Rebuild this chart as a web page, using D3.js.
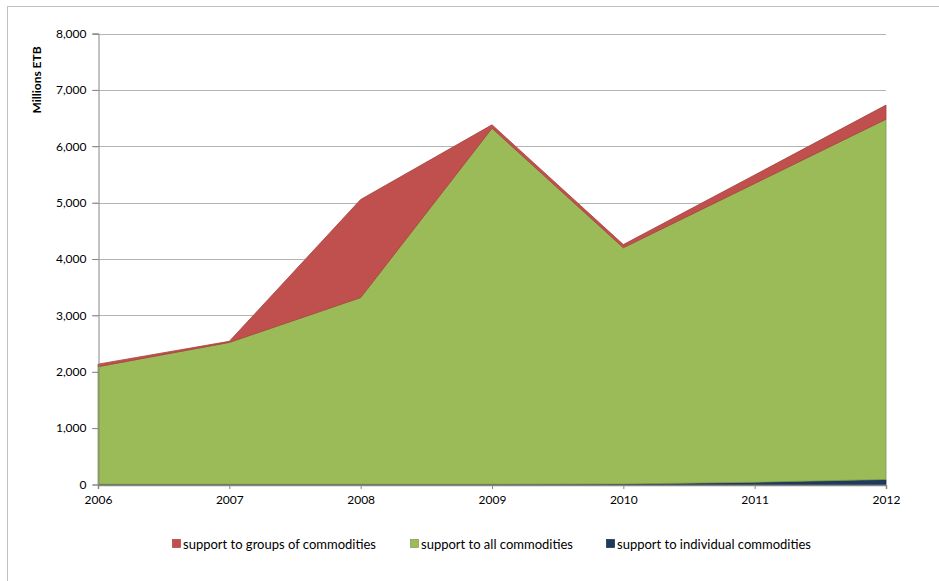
<!DOCTYPE html>
<html>
<head>
<meta charset="utf-8">
<script src="https://cdn.jsdelivr.net/npm/d3@7"></script>
<style>
  html, body { margin: 0; padding: 0; background: #fff; }
  svg { display: block; font-family: Lato, "Open Sans", sans-serif; }
</style>
</head>
<body>
<svg id="chart" width="939" height="581"></svg>
<script>
const years = [2006, 2007, 2008, 2009, 2010, 2011, 2012];
const individualCommodities = [5, 5, 5, 5, 10, 40, 90];
const allCommodities = [2085, 2515, 3310, 6315, 4190, 5300, 6390];
const groupsOfCommodities = [45, 20, 1740, 60, 55, 150, 250];
const yTicks = [0, 1000, 2000, 3000, 4000, 5000, 6000, 7000, 8000];
const seriesNames = ["support to groups of commodities", "support to all commodities", "support to individual commodities"];
const seriesKeys = ["groups", "all", "individual"];
const colors = { groups: "#C0504D", all: "#9BBB59", individual: "#1F3A5F" };
const strokes = { groups: "#A8403D", all: "#7E9A45", individual: "#142A45" };

const table = years.map((yr, i) => ({
  year: yr,
  individual: individualCommodities[i],
  all: allCommodities[i],
  groups: groupsOfCommodities[i]
}));

const svg = d3.select("#chart");
const plotL = 98, plotR = 886, plotT = 33.5, plotB = 484.5;

// outer border
svg.append("rect").attr("x", 7.5).attr("y", 6.5).attr("width", 940).attr("height", 590)
  .attr("fill", "none").attr("stroke", "#c0c0c0").attr("stroke-width", 1);

const x = d3.scaleLinear().domain([2006, 2012]).range([plotL, plotR]);
const y = d3.scaleLinear().domain([0, 8000]).range([plotB, plotT]);

// gridlines
svg.append("g").selectAll("line").data(yTicks.filter(d => d > 0)).join("line")
  .attr("x1", plotL - 6).attr("x2", plotR)
  .attr("y1", d => Math.round(y(d)) + 0.5).attr("y2", d => Math.round(y(d)) + 0.5)
  .attr("stroke", "#b4b4b4").attr("stroke-width", 1);

// stacked areas
const stack = d3.stack().keys(["individual", "all", "groups"]);
const layers = stack(table);
const area = d3.area()
  .x(d => x(d.data.year))
  .y0(d => y(d[0]))
  .y1(d => y(d[1]));

svg.append("g").selectAll("path").data(layers).join("path")
  .attr("d", area)
  .attr("fill", d => colors[d.key])
  .attr("stroke", d => strokes[d.key])
  .attr("stroke-width", 0.8)
  .attr("stroke-linejoin", "round");

// y axis
const yAxis = d3.axisLeft(y).tickValues(yTicks).tickSize(6).tickPadding(6)
  .tickFormat(d3.format(","));
const gy = svg.append("g").attr("transform", `translate(${plotL + 0.5},0)`).call(yAxis);
gy.select(".domain").attr("stroke", "#868686");
gy.selectAll(".tick line").attr("stroke", "#868686");
gy.selectAll(".tick text").attr("font-size", 12).attr("fill", "#000")
  .attr("font-family", "Lato, 'Open Sans', sans-serif");

// x axis
const xAxis = d3.axisBottom(x).tickValues(years).tickSize(4).tickPadding(6)
  .tickFormat(d3.format("d"));
const gx = svg.append("g").attr("transform", `translate(0,${plotB + 0.5})`).call(xAxis);
gx.select(".domain").attr("stroke", "#868686").attr("stroke-width", 1.5);
gx.selectAll(".tick line").attr("stroke", "#868686");
gx.selectAll(".tick text").attr("font-size", 12).attr("fill", "#000")
  .attr("font-family", "Lato, 'Open Sans', sans-serif");

// y title
svg.append("text")
  .attr("transform", "translate(41,80) rotate(-90)")
  .attr("text-anchor", "middle")
  .attr("font-size", 12).attr("font-weight", "bold")
  .text("Millions ETB");

// legend
const legendX = [172, 410, 606];
const lg = svg.append("g").selectAll("g").data(seriesKeys).join("g")
  .attr("transform", (d, i) => `translate(${legendX[i]},539)`);
lg.append("rect").attr("x", 0.5).attr("y", 0.5).attr("width", 8).attr("height", 8)
  .attr("fill", d => colors[d]).attr("stroke", d => strokes[d]).attr("stroke-width", 0.7);
lg.append("text").attr("x", 11).attr("y", 9.5)
  .attr("font-size", 13).attr("fill", "#000")
  .text((d, i) => seriesNames[i]);
</script>
</body>
</html>
